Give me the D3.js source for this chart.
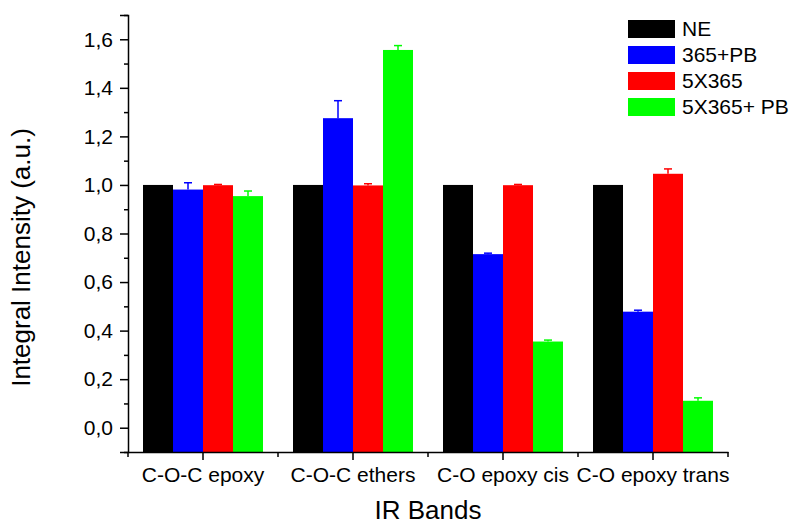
<!DOCTYPE html>
<html>
<head>
<meta charset="utf-8">
<script src="https://cdn.jsdelivr.net/npm/d3@7"></script>
<style>
  html, body { margin: 0; padding: 0; background: #fff; }
  svg { display: block; font-family: "Liberation Sans", Arial, sans-serif; }
</style>
</head>
<body>
<svg id="chart" width="793" height="525"></svg>
<script>
// ---- data ----
const categories = ["C-O-C epoxy", "C-O-C ethers", "C-O epoxy cis", "C-O epoxy trans"];
const seriesNames = ["NE", "365+PB", "5X365", "5X365+ PB"];
const seriesColors = ["#000000", "#0000ff", "#ff0000", "#00ff00"];
const valuesNE     = [1.000, 1.000, 1.000, 1.000];
const valuesPB     = [0.981, 1.275, 0.715, 0.478];
const values5X     = [0.999, 0.998, 0.999, 1.046];
const values5XPB   = [0.954, 1.556, 0.355, 0.111];
const errNE        = [0, 0, 0, 0];
const errPB        = [0.028, 0.072, 0.004, 0.006];
const err5X        = [0.003, 0.007, 0.003, 0.020];
const err5XPB      = [0.021, 0.018, 0.006, 0.012];
const yMajorTicks  = [0.0, 0.2, 0.4, 0.6, 0.8, 1.0, 1.2, 1.4, 1.6];
const yMinorTicks  = [-0.1, 0.1, 0.3, 0.5, 0.7, 0.9, 1.1, 1.3, 1.5, 1.7];

const seriesValues = [valuesNE, valuesPB, values5X, values5XPB];
const seriesErrors = [errNE, errPB, err5X, err5XPB];

// ---- layout ----
const svg = d3.select("#chart");
const mLeft = 128, mRight = 728, mTop = 15, mBottom = 452;
const tickFont = 21, titleFont = 26;

const x0 = d3.scaleBand().domain(categories).range([mLeft, mRight]).paddingInner(0.2).paddingOuter(0.1);
const x1 = d3.scaleBand().domain(seriesNames).range([0, x0.bandwidth()]);
const y = d3.scaleLinear().domain([-0.1, 1.7]).range([mBottom, mTop]);
const color = d3.scaleOrdinal().domain(seriesNames).range(seriesColors);

const fmt = v => d3.format(".1f")(v).replace(".", ",");

// bars
const rows = [];
categories.forEach((c, i) => {
  seriesNames.forEach((s, j) => {
    rows.push({cat: c, series: s, value: seriesValues[j][i], err: seriesErrors[j][i]});
  });
});

const g = svg.append("g");
g.selectAll("rect.bar").data(rows).join("rect")
  .attr("class", "bar")
  .attr("x", d => x0(d.cat) + x1(d.series))
  .attr("width", x1.bandwidth())
  .attr("y", d => y(d.value))
  .attr("height", d => y(y.domain()[0]) - y(d.value))
  .attr("fill", d => color(d.series));

// error bars (upper only)
const eb = g.selectAll("g.err").data(rows.filter(d => d.err > 0)).join("g").attr("class", "err");
eb.append("line")
  .attr("x1", d => x0(d.cat) + x1(d.series) + x1.bandwidth() / 2)
  .attr("x2", d => x0(d.cat) + x1(d.series) + x1.bandwidth() / 2)
  .attr("y1", d => y(d.value))
  .attr("y2", d => y(d.value + d.err))
  .attr("stroke", d => color(d.series)).attr("stroke-width", 1.5);
eb.append("line")
  .attr("x1", d => x0(d.cat) + x1(d.series) + x1.bandwidth() / 2 - 4)
  .attr("x2", d => x0(d.cat) + x1(d.series) + x1.bandwidth() / 2 + 4)
  .attr("y1", d => y(d.value + d.err))
  .attr("y2", d => y(d.value + d.err))
  .attr("stroke", d => color(d.series)).attr("stroke-width", 1.5);

// y axis
const yAxis = svg.append("g").attr("transform", `translate(${mLeft},0)`)
  .call(d3.axisLeft(y).tickValues(yMajorTicks).tickSize(8).tickPadding(7).tickFormat(fmt));
svg.append("g").attr("transform", `translate(${mLeft},0)`)
  .call(d3.axisLeft(y).tickValues(yMinorTicks).tickSize(4).tickFormat(""))
  .call(a => a.select(".domain").remove());
yAxis.selectAll("text").attr("font-size", tickFont).attr("font-family", "Liberation Sans, Arial, sans-serif").attr("fill", "#000");

// x axis
const xAxis = svg.append("g").attr("transform", `translate(0,${mBottom})`)
  .call(d3.axisBottom(x0).tickSize(8).tickPadding(7).tickSizeOuter(0));
xAxis.selectAll("text").attr("font-size", tickFont).attr("font-family", "Liberation Sans, Arial, sans-serif").attr("fill", "#000");
const boundaries = d3.range(categories.length + 1).map(i => x0.range()[0] + i * x0.step());
svg.append("g").selectAll("line").data(boundaries).join("line")
  .attr("x1", d => d).attr("x2", d => d)
  .attr("y1", mBottom).attr("y2", mBottom + 5)
  .attr("stroke", "#000").attr("stroke-width", 1.5);

svg.selectAll(".domain").attr("stroke", "#000").attr("stroke-width", 1.5);
svg.selectAll(".tick line").attr("stroke", "#000").attr("stroke-width", 1.5);

// axis titles
svg.append("text")
  .attr("x", (mLeft + mRight) / 2).attr("y", 519)
  .attr("text-anchor", "middle").attr("font-size", titleFont)
  .text("IR Bands");
svg.append("text")
  .attr("transform", `translate(30,${(mTop + mBottom) / 2 + 24}) rotate(-90)`)
  .attr("text-anchor", "middle").attr("font-size", titleFont)
  .text("Integral Intensity (a.u.)");

// legend
const legend = svg.append("g").attr("transform", "translate(628,20)");
const li = legend.selectAll("g").data(seriesNames).join("g")
  .attr("transform", (d, i) => `translate(0,${i * 26})`);
li.append("rect").attr("width", 47).attr("height", 18).attr("fill", d => color(d));
li.append("text").attr("x", 54).attr("y", 16).attr("font-size", tickFont).text(d => d);
</script>
</body>
</html>
